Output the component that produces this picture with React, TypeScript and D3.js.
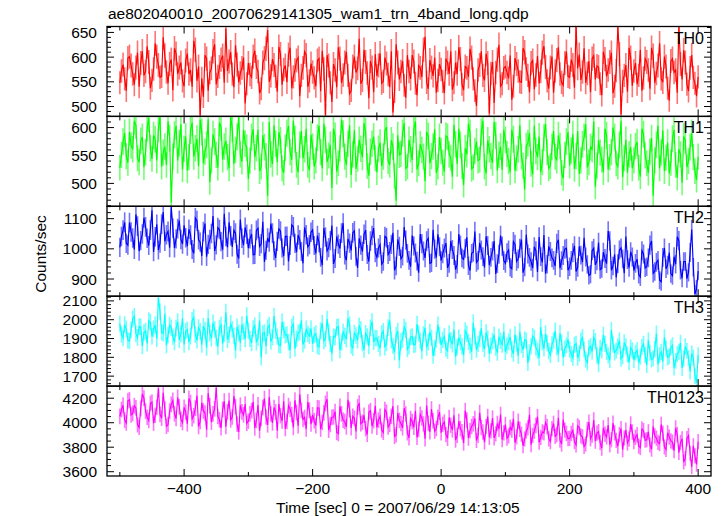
import React from "react";
import * as d3 from "d3";

// ---------- data ----------
const TITLE = "ae802040010_20070629141305_wam1_trn_4band_long.qdp";
const X_LABEL = "Time [sec] 0 = 2007/06/29 14:13:05";
const Y_LABEL = "Counts/sec";
// *_A values sit at -500, -495, ..., 400 s; *_B values at -497.5, -492.5, ..., 397.5 s
const TIME_START = -500;
const TIME_STEP = 2.5;
const X_DOMAIN = [-520, 420];
const X_MAJOR = [-400, -200, 0, 200, 400];
const X_MINOR = [-500, -300, -100, 100, 300];
const PANEL_NAMES = ["TH0", "TH1", "TH2", "TH3", "TH0123"];

const TH0_A = [
  548, 585, 532, 601, 566, 579, 540, 612, 571, 590, 553, 628, 584, 561, 603, 547, 595, 618, 566, 589,
  541, 607, 574, 633, 552, 482, 520, 597, 569, 612, 545, 580, 603, 658, 591, 566, 624, 549, 578, 506,
  588, 559, 613, 571, 536, 598, 655, 562, 584, 530, 606, 575, 549, 619, 560, 593, 521, 578, 604, 552,
  570, 541, 597, 613, 483, 583, 509, 574, 620, 548, 589, 563, 532, 601, 577, 546, 615, 568, 592, 529,
  562, 608, 551, 587, 539, 488, 626, 555, 592, 518, 571, 604, 547, 583, 560, 641, 536, 579, 599, 553,
  575, 527, 589, 612, 548, 566, 596, 533, 578, 617, 556, 501, 584, 563, 607, 486, 590, 569, 625, 546,
  581, 557, 514, 598, 572, 549, 610, 563, 588, 535, 602, 571, 622, 552, 579, 528, 594, 566, 543, 611,
  559, 584, 665, 605, 570, 548, 592, 597, 555, 580, 523, 596, 574, 609, 541, 662, 484, 563, 530, 599,
  572, 545, 615, 558, 590, 536, 603, 567, 628, 549, 581, 512, 597, 574, 664, 555, 589, 531, 604, 547,
  560,
];
const TH0_B = [
  572, 556, 598, 583, 544, 609, 588, 563, 622, 537, 576, 601, 559, 640, 570, 586, 533, 607, 579, 552,
  593, 566, 540, 615, 581, 557, 604, 532, 577, 626, 561, 595, 548, 572, 610, 539, 585, 568, 599, 546,
  565, 601, 580, 527, 589, 617, 550, 596, 561, 621, 544, 583, 605, 537, 574, 599, 563, 611, 540, 587,
  558, 593, 531, 576, 604, 548, 586, 539, 597, 564, 611, 526, 581, 569, 637, 553, 590, 517, 579, 606,
  583, 547, 599, 565, 612, 530, 589, 571, 543, 604, 556, 591, 523, 578, 615, 549, 594, 562, 528, 586,
  551, 597, 566, 534, 589, 620, 545, 581, 560, 599, 532, 574, 612, 553, 588, 567, 507, 595, 541, 578,
  569, 603, 541, 586, 550, 618, 576, 529, 593, 564, 547, 609, 580, 536, 601, 572, 620, 549, 588, 561,
  595, 538, 577, 554, 618, 567, 529, 603, 582, 546, 611, 561, 590, 527, 573, 606, 551, 584, 619, 542,
  588, 563, 532, 597, 574, 619, 548, 583, 556, 601, 537, 592, 569, 528, 586, 614, 545, 578, 559, 521,
];

const TH1_A = [
  528, 575, 549, 592, 561, 604, 538, 583, 556, 617, 544, 579, 598, 530, 566, 611, 466, 587, 541, 606,
  562, 523, 595, 548, 580, 614, 536, 569, 502, 588, 551, 609, 543, 576, 527, 598, 560, 621, 539, 571,
  508, 583, 547, 596, 530, 565, 478, 552, 604, 538, 577, 519, 590, 556, 612, 533, 569, 545, 598, 524,
  566, 541, 603, 527, 578, 550, 492, 585, 536, 614, 548, 571, 515, 595, 544, 562, 608, 531, 557, 584,
  520, 573, 548, 601, 533, 566, 469, 551, 590, 527, 578, 542, 611, 536, 560, 504, 585, 549, 597, 530,
  558, 521, 583, 546, 605, 535, 569, 497, 552, 590, 529, 575, 543, 612, 518, 561, 537, 586, 551, 524,
  578, 540, 596, 523, 561, 548, 489, 572, 535, 603, 547, 520, 582, 556, 531, 594, 541, 567, 509, 575,
  532, 588, 549, 517, 570, 606, 538, 561, 494, 577, 543, 598, 525, 556, 583, 530, 612, 545, 519, 565,
  541, 574, 512, 588, 536, 557, 478, 569, 527, 595, 546, 518, 580, 533, 561, 501, 577, 540, 590, 522,
  548,
];
const TH1_B = [
  551, 590, 537, 568, 612, 545, 576, 529, 599, 563, 586, 541, 620, 555, 533, 581, 548, 603, 572, 525,
  584, 547, 609, 563, 531, 592, 557, 615, 541, 575, 528, 601, 566, 547, 619, 535, 583, 552, 596, 564,
  541, 597, 563, 522, 586, 549, 610, 535, 571, 592, 527, 564, 603, 542, 579, 520, 594, 561, 533, 587,
  530, 582, 556, 607, 538, 569, 598, 521, 563, 589, 533, 604, 552, 526, 578, 547, 593, 514, 571, 545,
  562, 531, 594, 540, 577, 513, 586, 553, 608, 530, 561, 597, 525, 570, 548, 592, 536, 566, 519, 583,
  537, 585, 552, 512, 570, 598, 531, 563, 607, 526, 558, 541, 592, 530, 577, 549, 610, 523, 566, 596,
  553, 520, 579, 545, 604, 532, 567, 590, 516, 558, 584, 538, 607, 527, 565, 548, 586, 519, 551, 592,
  559, 526, 594, 541, 583, 529, 565, 611, 532, 555, 520, 586, 547, 600, 536, 569, 511, 578, 552, 527,
  567, 528, 598, 550, 519, 581, 541, 603, 555, 522, 573, 537, 596, 510, 552, 584, 529, 565, 547, 506,
];

const TH2_A = [
  1005, 1062, 1018, 1087, 1036, 1114, 992, 1049, 1073, 1011, 1128, 1040, 996, 1082, 1025, 1058, 1139, 1003, 1067, 1031,
  1078, 1009, 1046, 985, 1093, 1022, 1057, 974, 1031, 1109, 1013, 1064, 997, 1041, 1088, 1006, 1052, 968, 1035, 1071,
  1002, 1049, 981, 1068, 1017, 957, 1036, 1084, 994, 1025, 1059, 976, 1042, 1011, 1073, 989, 1030, 952, 1047, 1014,
  1063, 985, 1021, 946, 1039, 1004, 1077, 968, 1016, 1052, 979, 1033, 995, 1060, 937, 1012, 1048, 981, 1026, 1069,
  972, 1014, 958, 1037, 991, 1053, 943, 1008, 976, 1029, 962, 1044, 986, 921, 1017, 970, 1035, 954, 999, 1048,
  961, 1003, 937, 1026, 978, 949, 1012, 965, 1038, 928, 989, 955, 1020, 974, 1041, 946, 993, 917, 982, 1009,
  952, 996, 934, 1015, 967, 1031, 940, 983, 958, 1007, 923, 974, 1046, 949, 991, 962, 1018, 936, 978, 1002,
  941, 987, 925, 1008, 956, 973, 912, 994, 947, 1021, 935, 968, 1059, 929, 982, 951, 1003, 919, 964, 990,
  928, 966, 907, 983, 941, 1012, 919, 955, 896, 972, 934, 988, 911, 949, 1027, 903, 958, 922, 1064, 850,
  926,
];
const TH2_B = [
  1041, 1088, 1012, 1056, 998, 1075, 1027, 1103, 1035, 1062, 990, 1081, 1019, 1122, 1047, 1004, 1069, 1033, 1094, 1016,
  1037, 1065, 998, 1102, 1030, 976, 1084, 1015, 1051, 993, 1070, 1024, 1116, 1005, 1043, 1062, 982, 1097, 1012, 1048,
  1033, 980, 1061, 1008, 1090, 995, 1022, 1052, 970, 1066, 1003, 1041, 958, 1079, 1018, 1046, 991, 1071, 1006, 1055,
  1011, 1044, 972, 1069, 993, 1027, 950, 1041, 1001, 1085, 962, 1019, 1053, 975, 1035, 991, 1062, 958, 1044, 987,
  1003, 949, 1041, 981, 1015, 929, 1031, 967, 1072, 985, 941, 1010, 959, 1049, 993, 1026, 952, 1063, 971, 1007,
  984, 1019, 952, 998, 931, 1049, 970, 1002, 944, 985, 1057, 962, 996, 938, 1011, 972, 1026, 951, 1044, 961,
  987, 939, 1024, 958, 1002, 921, 1047, 972, 936, 994, 1039, 955, 918, 1008, 970, 943, 1030, 961, 999, 929,
  962, 1010, 938, 979, 1037, 948, 916, 1002, 960, 931, 989, 951, 1026, 943, 905, 996, 967, 1041, 938, 973,
  952, 915, 994, 937, 970, 1026, 925, 962, 891, 1003, 946, 918, 974, 1040, 929, 958, 901, 988, 939, 867,
];

const TH3_A = [
  1978, 1902, 1951, 1887, 2004, 1926, 1963, 1859, 1940, 1995, 1912, 1972, 2118, 1933, 2031, 1918, 1957, 1881, 1990, 1924,
  1868, 1947, 1912, 2012, 1890, 1938, 1965, 1851, 1929, 1983, 1904, 1956, 1873, 2040, 1920, 1949, 1837, 1931, 1974, 1897,
  1941, 1876, 1968, 1905, 1799, 1932, 1958, 1884, 2019, 1910, 1863, 1946, 1921, 1837, 1977, 1898, 1935, 1869, 1952, 1914,
  1872, 1926, 1855, 1981, 1898, 1934, 1820, 1907, 1963, 1879, 1915, 2006, 1862, 1929, 1891, 1948, 1840, 1911, 1957, 1883,
  1902, 1848, 1939, 1875, 1996, 1861, 1918, 1784, 1893, 1944, 1858, 1911, 1869, 1927, 1832, 1956, 1880, 1904, 1849, 1973,
  1866, 1912, 1835, 1891, 1948, 1853, 1879, 1811, 1925, 1862, 1984, 1840, 1896, 1873, 1932, 1819, 1887, 1851, 1909, 1868,
  1829, 1883, 1842, 1921, 1807, 1866, 1894, 1770, 1858, 1903, 1835, 1961, 1847, 1876, 1812, 1889, 1853, 1928, 1798, 1864,
  1841, 1797, 1872, 1820, 1905, 1788, 1849, 1831, 1886, 1763, 1837, 1871, 1810, 1945, 1826, 1858, 1792, 1879, 1815, 1852,
  1786, 1838, 1803, 1871, 1759, 1824, 1795, 1925, 1812, 1777, 1848, 1806, 1863, 1781, 1829, 1743, 1858, 1797, 1820, 1700,
  1811,
];
const TH3_B = [
  1921, 1974, 1890, 1946, 2018, 1905, 1962, 1932, 1874, 1987, 1951, 1899, 2042, 1928, 1865, 1971, 1910, 1956, 1893, 2008,
  1939, 1881, 1996, 1920, 1958, 1867, 1943, 2009, 1901, 1949, 1856, 1972, 1926, 1893, 1980, 1914, 1962, 1876, 1937, 2021,
  1898, 1953, 1880, 1995, 1927, 1859, 1971, 1906, 1942, 1865, 1988, 1917, 1880, 1961, 1846, 1930, 1997, 1889, 1925, 1953,
  1918, 1861, 1942, 1887, 2003, 1872, 1911, 1959, 1838, 1934, 1896, 1973, 1850, 1916, 1966, 1876, 1928, 1859, 1990, 1902,
  1871, 1926, 1853, 1958, 1892, 1827, 1940, 1884, 1961, 1843, 1907, 1866, 1977, 1889, 1921, 1852, 1935, 1808, 1894, 1917,
  1893, 1846, 1927, 1869, 1803, 1905, 1858, 1942, 1882, 1829, 1911, 1871, 1956, 1844, 1900, 1862, 1919, 1825, 1888, 1937,
  1862, 1908, 1819, 1874, 1937, 1840, 1889, 1826, 1912, 1851, 1798, 1881, 1926, 1833, 1869, 1941, 1817, 1878, 1846, 1895,
  1818, 1866, 1797, 1888, 1843, 1772, 1859, 1906, 1810, 1851, 1919, 1829, 1785, 1868, 1836, 1890, 1806, 1857, 1773, 1836,
  1824, 1771, 1855, 1812, 1890, 1788, 1842, 1763, 1829, 1906, 1799, 1851, 1745, 1818, 1877, 1792, 1834, 1724, 1799, 1665,
];

const TH0123_A = [
  4052, 4143, 3998, 4187, 4076, 4121, 3962, 4235, 4094, 4018, 4168, 4061, 4279, 4037, 4112, 3985, 4150, 4073, 4206, 4029,
  4125, 3991, 4164, 4058, 4219, 4010, 4096, 3943, 4137, 4072, 4286, 4024, 4108, 3968, 4181, 4047, 4131, 3925, 4089, 4152,
  4013, 4098, 3957, 4145, 4036, 4197, 3982, 4071, 4124, 3934, 4058, 4176, 4009, 4110, 3961, 4083, 4232, 4027, 3948, 4102,
  4064, 3976, 4119, 4002, 4158, 3939, 4045, 4091, 3911, 4073, 4010, 4187, 3958, 4036, 4129, 3992, 4061, 3904, 4098, 4017,
  3963, 4052, 3921, 4086, 3987, 4135, 3902, 4019, 3958, 4071, 3876, 4010, 4097, 3945, 4038, 3869, 3996, 4112, 3931, 4044,
  3918, 4006, 3872, 3979, 4061, 3897, 3952, 3834, 4023, 3936, 3991, 3855, 4082, 3924, 3968, 3881, 4037, 3909, 3947, 3862,
  3985, 3893, 3941, 3838, 4012, 3906, 3867, 3958, 3821, 3931, 4049, 3880, 3917, 3969, 3846, 3994, 3902, 3857, 4026, 3913,
  3872, 3938, 3819, 3961, 3885, 3826, 4004, 3898, 3849, 3927, 3792, 3906, 3981, 3861, 3918, 3808, 3952, 3875, 3834, 3989,
  3846, 3902, 3797, 3935, 3861, 3818, 3968, 3874, 3829, 3915, 3781, 3883, 3842, 3957, 3756, 3869, 3708, 3895, 3640, 3730,
  3845,
];
const TH0123_B = [
  4108, 4021, 4179, 4063, 4139, 3983, 4117, 4201, 4045, 4157, 3996, 4126, 4068, 4245, 3971, 4095, 4182, 4034, 4129, 4001,
  4087, 4198, 4033, 4119, 3969, 4162, 4079, 4241, 4005, 4113, 4051, 3958, 4176, 4090, 4023, 4217, 3987, 4142, 4064, 3995,
  4072, 4171, 4019, 3935, 4126, 4047, 4210, 3998, 4088, 4154, 4015, 3952, 4139, 4066, 4184, 3975, 4101, 4043, 4169, 3989,
  4016, 4122, 3947, 4080, 4191, 3985, 4047, 3920, 4134, 4021, 3966, 4108, 4053, 3928, 4160, 4004, 3951, 4085, 3972, 4139,
  4021, 3941, 4107, 3965, 4052, 3888, 4079, 3993, 4120, 3917, 4034, 3962, 3881, 4068, 3990, 4141, 3925, 4016, 3953, 4087,
  3987, 3903, 4043, 3942, 3858, 4011, 3926, 4098, 3874, 3969, 4035, 3897, 3961, 3842, 4050, 3933, 3876, 3994, 4067, 3917,
  3874, 3962, 4031, 3885, 3947, 3812, 3933, 4065, 3896, 3978, 3841, 3925, 4003, 3868, 3952, 3889, 4041, 3826, 3940, 3871,
  3913, 3847, 3974, 3893, 3806, 3945, 3869, 4022, 3915, 3837, 3958, 3884, 3820, 3996, 3856, 3903, 3779, 3939, 3866, 3924,
  3881, 3809, 3949, 3857, 3926, 3784, 3893, 3840, 3986, 3802, 3918, 3851, 3772, 3904, 3838, 3679, 3871, 3751, 3812, 3660,
];

function interleave(a: number[], b: number[]) {
  const out: number[] = [];
  a.forEach((v, i) => {
    out.push(v);
    if (i < b.length) out.push(b[i]);
  });
  return out;
}

const SERIES = [
  interleave(TH0_A, TH0_B),
  interleave(TH1_A, TH1_B),
  interleave(TH2_A, TH2_B),
  interleave(TH3_A, TH3_B),
  interleave(TH0123_A, TH0123_B),
];
const Y_DOMAINS = [
  [480, 662],
  [459, 620],
  [843, 1141],
  [1647, 2125],
  [3565, 4299],
];
const Y_MAJOR_STEP = [50, 50, 100, 100, 200];
const Y_MINOR_STEP = [10, 10, 20, 20, 50];

// ---------- styles ----------
const COLORS = ["#ff0000", "#00ff00", "#0000ff", "#00ffff", "#ff00ff"];
const FONT = "'Liberation Sans', Arial, Helvetica, sans-serif";
const W = 724;
const H = 516;
const LEFT = 107;
const RIGHT = 711;
const TOP = 26.5;
const PANEL_H = 89.9;

function stepTicks(d0: number, d1: number, step: number) {
  const out: number[] = [];
  for (let v = Math.ceil(d0 / step) * step; v <= d1 + 1e-9; v += step) out.push(v);
  return out;
}

function Panel({ idx }: { idx: number }) {
  const y0 = TOP + idx * PANEL_H;
  const y1 = y0 + PANEL_H;
  const x = d3.scaleLinear().domain(X_DOMAIN).range([LEFT, RIGHT]);
  const y = d3.scaleLinear().domain(Y_DOMAINS[idx]).range([y1, y0]);
  const values = SERIES[idx];
  const times = values.map((_, i) => TIME_START + i * TIME_STEP);
  const color = COLORS[idx];
  const line = d3
    .line<number>()
    .x((_, i) => x(times[i]))
    .y((v) => y(v));
  const majors = stepTicks(Y_DOMAINS[idx][0], Y_DOMAINS[idx][1], Y_MAJOR_STEP[idx]);
  const minors = stepTicks(Y_DOMAINS[idx][0], Y_DOMAINS[idx][1], Y_MINOR_STEP[idx]).filter(
    (v) => !majors.includes(v)
  );
  const clipId = `clip${idx}`;
  const MAJ = 7;
  const MIN = 4;
  const binW = x(TIME_STEP) - x(0);
  return (
    <g>
      <defs>
        <clipPath id={clipId}>
          <rect x={LEFT} y={y0} width={RIGHT - LEFT} height={PANEL_H} />
        </clipPath>
      </defs>
      <g clipPath={`url(#${clipId})`}>
        {values.map((v, i) => {
          const e = Math.sqrt(v);
          return (
            <line
              key={i}
              x1={x(times[i])}
              x2={x(times[i])}
              y1={y(v - e)}
              y2={y(v + e)}
              stroke={color}
              strokeOpacity={0.55}
              strokeWidth={binW}
            />
          );
        })}
        <path d={line(values) || ""} fill="none" stroke={color} strokeWidth={1.15} />
      </g>
      {/* y ticks */}
      {majors.map((v) => (
        <g key={`M${v}`}>
          <line x1={LEFT} x2={LEFT + MAJ} y1={y(v)} y2={y(v)} stroke="#000" />
          <line x1={RIGHT} x2={RIGHT - MAJ} y1={y(v)} y2={y(v)} stroke="#000" />
          <text
            x={LEFT - 10}
            y={y(v) + 5.5}
            textAnchor="end"
            fontFamily={FONT}
            fontSize={15.5}
            fill="#000"
          >
            {v}
          </text>
        </g>
      ))}
      {minors.map((v) => (
        <g key={`m${v}`}>
          <line x1={LEFT} x2={LEFT + MIN} y1={y(v)} y2={y(v)} stroke="#000" />
          <line x1={RIGHT} x2={RIGHT - MIN} y1={y(v)} y2={y(v)} stroke="#000" />
        </g>
      ))}
      {/* x ticks top/bottom */}
      {X_MAJOR.map((t) => (
        <g key={`xM${t}`}>
          <line x1={x(t)} x2={x(t)} y1={y0} y2={y0 + MAJ} stroke="#000" />
          <line x1={x(t)} x2={x(t)} y1={y1} y2={y1 - MAJ} stroke="#000" />
        </g>
      ))}
      {X_MINOR.map((t) => (
        <g key={`xm${t}`}>
          <line x1={x(t)} x2={x(t)} y1={y0} y2={y0 + MIN} stroke="#000" />
          <line x1={x(t)} x2={x(t)} y1={y1} y2={y1 - MIN} stroke="#000" />
        </g>
      ))}
      <rect
        x={LEFT}
        y={y0}
        width={RIGHT - LEFT}
        height={PANEL_H}
        fill="none"
        stroke="#000"
        strokeWidth={1.3}
      />
      <text
        x={704}
        y={y0 + 17}
        textAnchor="end"
        fontFamily={FONT}
        fontSize={16}
        fill="#000"
      >
        {PANEL_NAMES[idx]}
      </text>
    </g>
  );
}

export default function App() {
  const x = d3.scaleLinear().domain(X_DOMAIN).range([LEFT, RIGHT]);
  const bottom = TOP + 5 * PANEL_H;
  return (
    <svg
      width={W}
      height={H}
      style={{ position: "absolute", left: 0, top: 0, background: "#fff" }}
    >
      <rect x={0} y={0} width={W} height={H} fill="#fff" />
      <text x={108} y={19} fontFamily={FONT} fontSize={15.5} fill="#000">
        {TITLE}
      </text>
      {SERIES.map((_, i) => (
        <Panel key={i} idx={i} />
      ))}
      {X_MAJOR.map((t) => (
        <text
          key={t}
          x={x(t)}
          y={bottom + 17.5}
          textAnchor="middle"
          fontFamily={FONT}
          fontSize={15.5}
          fill="#000"
        >
          {t < 0 ? `\u2212${-t}` : `${t}`}
        </text>
      ))}
      <text
        x={276}
        y={513}
        fontFamily={FONT}
        fontSize={15.5}
        fill="#000"
      >
        {X_LABEL}
      </text>
      <text
        transform={`translate(46, 254) rotate(-90)`}
        textAnchor="middle"
        fontFamily={FONT}
        fontSize={15.5}
        fill="#000"
      >
        {Y_LABEL}
      </text>
    </svg>
  );
}
